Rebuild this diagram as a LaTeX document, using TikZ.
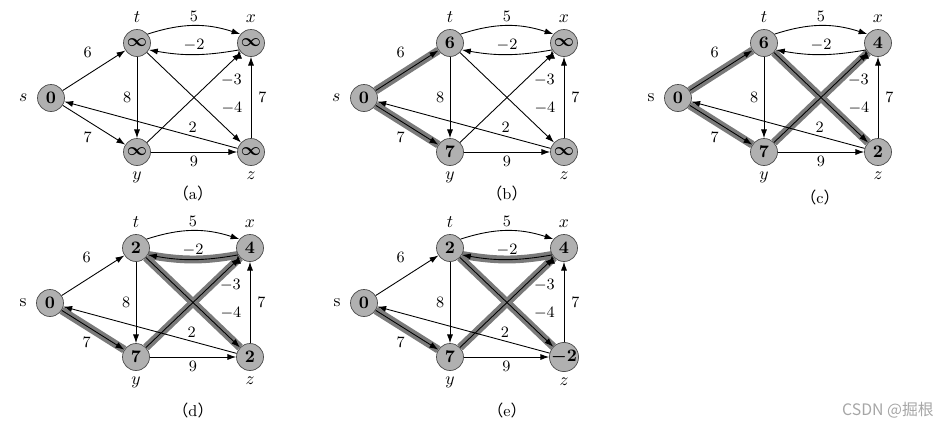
\documentclass[tikz,border=0pt]{standalone}
\usepackage{amsmath}
\usepackage{fontspec}
\newfontfamily\cjk{Noto Sans CJK SC}
\usetikzlibrary{arrows.meta,backgrounds}

\tikzset{
  vtx/.style={circle,draw=black!70,fill=black!31,minimum size=0.54cm,inner sep=0pt,font=\bfseries},
  nlbl/.style={inner sep=0.3333em,font=\mdseries},
  wlbl/.style={inner sep=2pt,font=\small},
  arr/.style={-{Latex[length=5pt,width=3.5pt]},line width=0.5pt},
  hl/.style={draw=black!52,line width=4.5pt},
  tag/.style={font=\small}
}

% one graph of the Bellman-Ford run: s label, then d-values of s t x y z
\newcommand{\bfpanel}[6]{%
  \node[vtx,label={[nlbl,label distance=2pt]left:#1}] (s) at (0,0) {#2};
  \node[vtx,label={[nlbl]above:$t$}] (t) at (86,-55) {#3};
  \node[vtx,label={[nlbl]above:$x$}] (x) at (200,-55) {#4};
  \node[vtx,label={[nlbl]below:$y$}] (y) at (86,54) {#5};
  \node[vtx,label={[nlbl]below:$z$}] (z) at (200,54) {#6};

  \path[draw,arr]
  (s) edge node[wlbl,pos=0.4,above=7pt] {6} (t)
  (s) edge node[wlbl,pos=0.4,below=4pt] {7} (y)
  (t.40) edge[bend left=18] node[wlbl,above] {5} (x.140)
  (x.-150) edge[bend left=10] node[wlbl,above] {$-2$} (t.-30)
  (t) edge node[wlbl,left=1pt] {8} (y)
  (t) edge node[wlbl,pos=0.62,right=7pt] {$-4$} (z)
  (y) edge node[wlbl,pos=0.69,right=3pt] {$-3$} (x)
  (y) edge node[wlbl,below] {9} (z)
  (z) edge node[wlbl,right=2pt] {7} (x)
  (z) edge node[wlbl,pos=0.26,above] {2} (s)
  ;
}

\begin{document}
\begin{tikzpicture}[x=0.02cm,y=-0.02cm]
  \useasboundingbox (0,0) rectangle (943,423);

  % (a)
  \begin{scope}[shift={(51,98)},name prefix=a-]
    \bfpanel{$s$}{0}{$\boldsymbol{\infty}$}{$\boldsymbol{\infty}$}{$\boldsymbol{\infty}$}{$\boldsymbol{\infty}$}
  \end{scope}
  \node[tag] (taga) at (193,193) {{\cjk （}a{\cjk ）}};

  % (b)
  \begin{scope}[shift={(364,98)},name prefix=b-]
    \bfpanel{$s$}{0}{6}{$\boldsymbol{\infty}$}{7}{$\boldsymbol{\infty}$}
    \begin{pgfonlayer}{background}
      \draw[hl] (s) -- (t) (s) -- (y);
    \end{pgfonlayer}
  \end{scope}
  \node[tag] (tagb) at (507,193) {{\cjk （}b{\cjk ）}};

  % (c)
  \begin{scope}[shift={(678,98)},name prefix=c-]
    \bfpanel{s}{0}{6}{4}{7}{2}
    \begin{pgfonlayer}{background}
      \draw[hl] (s) -- (t) (s) -- (y) (t) -- (z) (y) -- (x);
    \end{pgfonlayer}
  \end{scope}
  \node[tag] (tagc) at (820,197) {{\cjk （}c{\cjk ）}};

  % (d)
  \begin{scope}[shift={(50,303)},name prefix=d-]
    \bfpanel{s}{0}{2}{4}{7}{2}
    \begin{pgfonlayer}{background}
      \draw[hl] (s) -- (y) (t) -- (z) (y) -- (x);
      \draw[hl] (x.-150) to[bend left=10] (t.-30);
    \end{pgfonlayer}
  \end{scope}
  \node[tag] (tagd) at (193,410) {{\cjk （}d{\cjk ）}};

  % (e)
  \begin{scope}[shift={(364,303)},name prefix=e-]
    \bfpanel{s}{0}{2}{4}{7}{$\boldsymbol{-2}$}
    \begin{pgfonlayer}{background}
      \draw[hl] (s) -- (y) (t) -- (z) (y) -- (x);
      \draw[hl] (x.-150) to[bend left=10] (t.-30);
    \end{pgfonlayer}
  \end{scope}
  \node[tag] (tage) at (507,410) {{\cjk （}e{\cjk ）}};

  \node[text=black!35,font=\cjk\fontsize{9}{10}\selectfont] (mark) at (888,410) {CSDN @掘根};
\end{tikzpicture}
\end{document}
